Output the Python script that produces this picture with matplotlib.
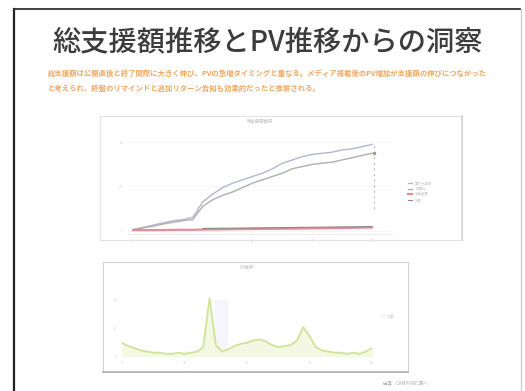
import matplotlib
matplotlib.use("Agg")
import matplotlib.pyplot as plt
from matplotlib.patches import Rectangle
from matplotlib.lines import Line2D

plt.rcParams['font.family'] = ['Noto Sans CJK JP', 'DejaVu Sans']

W, H = 525, 391

# ---- data ----
title = "総支援額推移とPV推移からの洞察"
note_line1 = "総支援額は公開直後と終了間際に大きく伸び、PVの急増タイミングと重なる。メディア掲載後のPV増加が支援額の伸びにつながった"
note_line2 = "と考えられ、終盤のリマインドと追加リターン告知も効果的だったと推察される。"
source_text = "出典：CAMPFIRE 調べ"

chart1_title = "総支援額推移"
months = list(range(25))
total_a = [1, 3, 5, 7, 9, 10, 12, 26, 33, 39, 43, 46, 49, 52, 56, 61, 64, 67, 69, 70, 71, 73, 74, 76, 78]
total_b = [1, 2.5, 4, 6, 7.5, 9, 10, 22, 28, 32, 35, 39, 43, 46, 49, 52, 56, 58, 60, 61, 62, 64, 66, 68, 70]
backers = [0.5, 0.5, 0.6, 0.6, 0.7, 0.8, 0.8, 1.0, 1.1, 1.2, 1.3, 1.4, 1.5, 1.6, 1.7, 1.8, 1.9, 2.0, 2.1, 2.2, 2.3, 2.4, 2.6, 2.8, 3.0]
count_b = [None] * 7 + [2.0, 2.1, 2.2, 2.3, 2.4, 2.5, 2.6, 2.7, 2.8, 2.9, 3.0, 3.1, 3.2, 3.3, 3.4, 3.5, 3.6, 3.8]
series1_labels = ["累計支援額", "目標比", "支援者数", "件数"]

chart2_title = "PV推移"
days = list(range(41))
pv = [12, 9, 7, 5, 4, 3, 3, 2, 2, 3, 2, 3, 4, 8, 52, 10, 4, 6, 9, 11, 12, 14, 15, 13, 10,
      8, 9, 10, 14, 26, 18, 8, 5, 4, 3, 3, 2, 3, 2, 4, 7]
series2_label = "PV数"

fig = plt.figure(figsize=(W / 100, H / 100), dpi=100)
fig.patch.set_facecolor("white")


def fx(x):
    return x / W


def fy(y):
    return 1 - y / H


def axes_px(x0, y0, x1, y1):
    return fig.add_axes([fx(x0), fy(y1), (x1 - x0) / W, (y1 - y0) / H])


# slide frame
fig.add_artist(Line2D([fx(14), fx(14)], [fy(9), fy(391)], color="#222222", lw=1.6))
fig.add_artist(Line2D([fx(14), fx(520)], [fy(9), fy(9)], color="#333333", lw=1.3))
fig.add_artist(Line2D([fx(521), fx(521)], [fy(9), fy(391)], color="#cfcfcf", lw=1.0))

# title
fig.text(fx(268), fy(42), title, ha="center", va="center", fontsize=20.3, color="#3c3c3c",
         fontweight="medium")

# orange notes
fig.text(fx(48), fy(73), note_line1, ha="left", va="center", fontsize=5.3, color="#f2a862",
         fontweight="bold")
fig.text(fx(48), fy(88), note_line2, ha="left", va="center", fontsize=5.3, color="#f2a862",
         fontweight="bold")

# panel 1
fig.add_artist(Rectangle((fx(100), fy(240)), (462 - 100) / W, (240 - 116) / H,
                         transform=fig.transFigure, fill=False, ec="#e2e2e2", lw=0.8))
fig.add_artist(Line2D([fx(462), fx(462)], [fy(116), fy(240)], color="#d6d6d6", lw=1.2))

ax1 = axes_px(128, 140, 392, 234)
ax1.plot(months, total_a, color="#b3b7cc", lw=1.0)
ax1.plot(months, total_b, color="#b0aeb0", lw=1.0)
ax1.plot(months, backers, color="#e48c9a", lw=1.6)
ax1.plot(months, count_b, color="#8a8a8a", lw=0.8)
ax1.vlines(months[-1] + 0.2, total_b[-1] - 50, total_a[-1], colors="#bbbbbb", linestyles=(0, (2, 3)), lw=0.8)
ax1.plot([months[-1] + 0.2], [total_b[-1]], marker="o", ms=1.5, color="#999999")
ax1.set_xlim(-0.5, 26)
ax1.set_ylim(-3, 82)
for s in ax1.spines.values():
    s.set_visible(False)
ax1.spines["bottom"].set_visible(True)
ax1.spines["bottom"].set_color("#eeeeee")
ax1.tick_params(length=0, labelsize=2.5, colors="#d0d0d0")
ax1.set_xticks(months[::6])
ax1.set_yticks([0, 40, 80])
ax1.grid(axis="y", color="#f3f3f3", lw=0.5)
ax1.set_title(chart1_title, fontsize=3.2, color="#bbbbbb", pad=12)
ax1.patch.set_alpha(0)
ax1.legend(series1_labels, loc="center left", bbox_to_anchor=(1.05, 0.45), fontsize=2.5,
           frameon=False, labelcolor="#c8c8c8", handlelength=1.2)

# panel 2
fig.add_artist(Rectangle((fx(103), fy(372)), (408 - 103) / W, (372 - 262) / H,
                         transform=fig.transFigure, fill=False, ec="#d2d2d2", lw=0.8))
fig.add_artist(Line2D([fx(103), fx(408)], [fy(372), fy(372)], color="#b0b0b0", lw=1.2))

ax2 = axes_px(122, 294, 372, 356)
ax2.axvspan(14.8, 16.8, ymin=0.1, ymax=0.9, color="#f6f4fc", zorder=0)
ax2.fill_between(days, pv, color="#f3f8e0", alpha=0.9)
ax2.plot(days, pv, color="#d2e29a", lw=1.3)
ax2.set_xlim(0, 40)
ax2.set_ylim(0, 56)
for s in ax2.spines.values():
    s.set_visible(False)
ax2.tick_params(length=0, labelsize=2.5, colors="#d0d0d0")
ax2.set_xticks(days[::10])
ax2.set_yticks([0, 25, 50])
ax2.set_title(chart2_title, fontsize=3.2, color="#bbbbbb", pad=18)
ax2.patch.set_alpha(0)
ax2.legend([series2_label], loc="center left", bbox_to_anchor=(1.02, 0.65), fontsize=2.5,
           frameon=False, labelcolor="#c8c8c8", handlelength=1.2)

# source
fig.text(fx(405), fy(383), source_text, ha="center", va="center", fontsize=3.2, color="#a8a8a8")

fig.savefig("out.png", dpi=100)
